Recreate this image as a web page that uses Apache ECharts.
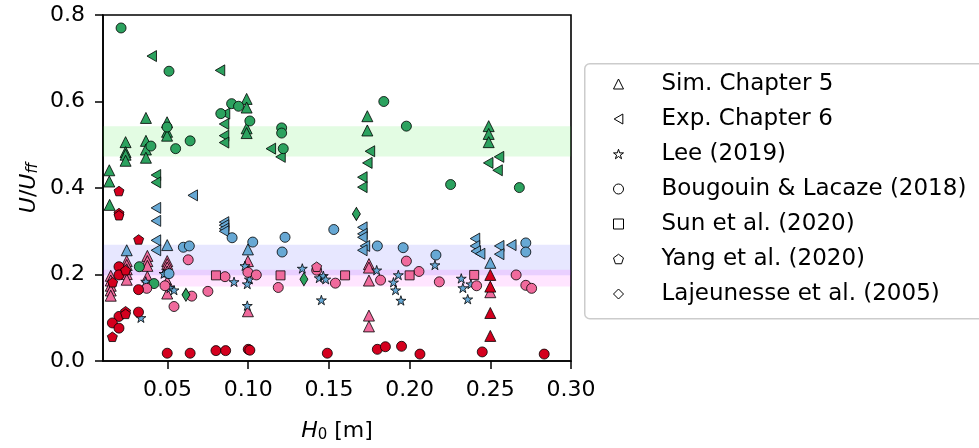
<!DOCTYPE html>
<html><head><meta charset="utf-8">
<script src="https://cdn.jsdelivr.net/npm/echarts@6/dist/echarts.min.js"></script>
<style>html,body{margin:0;padding:0;background:#fff}#c{width:979px;height:448px}</style>
</head><body><div id="c"></div>
<script>
// ---------- DATA (H0 [m], U/Uff, regime) ----------
const seriesNames = ['Sim. Chapter 5','Exp. Chapter 6','Lee (2019)','Bougouin & Lacaze (2018)','Sun et al. (2020)','Yang et al. (2020)','Lajeunesse et al. (2005)'];

const simData = [
  [0.0139,0.441,'g'],[0.0139,0.415,'g'],[0.0141,0.361,'g'],
  [0.024,0.506,'g'],[0.024,0.483,'g'],[0.024,0.477,'g'],[0.024,0.463,'g'],
  [0.0366,0.562,'g'],[0.0366,0.509,'g'],[0.0366,0.489,'g'],[0.0366,0.470,'g'],
  [0.0497,0.552,'g'],[0.0497,0.530,'g'],[0.0497,0.521,'g'],
  [0.099,0.606,'g'],[0.099,0.586,'g'],[0.099,0.538,'g'],[0.099,0.527,'g'],
  [0.1738,0.566,'g'],[0.1738,0.533,'g'],
  [0.249,0.543,'g'],[0.249,0.525,'g'],[0.249,0.506,'g'],
  [0.0247,0.256,'b'],[0.0498,0.268,'b'],[0.0998,0.258,'b'],[0.250,0.227,'b'],
  [0.0148,0.197,'p'],[0.0148,0.186,'p'],[0.0148,0.174,'p'],[0.0148,0.163,'p'],[0.0148,0.151,'p'],
  [0.0247,0.231,'p'],[0.0247,0.222,'p'],[0.0247,0.212,'p'],[0.0247,0.201,'p'],[0.0247,0.188,'p'],
  [0.0375,0.243,'p'],[0.0375,0.231,'p'],[0.0375,0.220,'p'],[0.0375,0.195,'p'],
  [0.0498,0.231,'p'],[0.0498,0.224,'p'],[0.0498,0.216,'p'],[0.0498,0.207,'p'],[0.0498,0.184,'p'],[0.0498,0.156,'p'],
  [0.0998,0.231,'p'],[0.0998,0.115,'p'],
  [0.1748,0.224,'p'],[0.1748,0.216,'p'],[0.1748,0.186,'p'],[0.1748,0.105,'p'],[0.1748,0.080,'p'],
  [0.250,0.159,'p'],
  [0.250,0.199,'r'],[0.250,0.172,'r'],[0.250,0.111,'r'],[0.250,0.058,'r']
];

const expData = [
  [0.0402,0.705,'g'],[0.0825,0.672,'g'],[0.0856,0.572,'g'],[0.085,0.548,'g'],[0.085,0.521,'g'],[0.085,0.505,'g'],
  [0.0428,0.430,'g'],[0.0428,0.413,'g'],[0.114,0.491,'g'],[0.120,0.472,'g'],[0.1754,0.485,'g'],[0.1738,0.458,'g'],
  [0.1707,0.425,'g'],[0.1707,0.402,'g'],[0.2554,0.472,'g'],[0.2487,0.458,'g'],[0.2545,0.441,'g'],
  [0.0656,0.383,'b'],[0.0428,0.354,'b'],[0.0428,0.324,'b'],[0.085,0.321,'b'],[0.085,0.314,'b'],[0.085,0.306,'b'],[0.085,0.300,'b'],
  [0.0428,0.279,'b'],[0.0428,0.256,'b'],[0.1707,0.309,'b'],[0.1707,0.294,'b'],[0.1707,0.286,'b'],[0.1723,0.266,'b'],[0.1707,0.256,'b'],
  [0.2405,0.283,'b'],[0.2405,0.266,'b'],[0.241,0.254,'b'],[0.2437,0.248,'b'],[0.2555,0.266,'b'],[0.2555,0.247,'b'],[0.263,0.268,'b'],
  [0.1713,-0.012,'b']
];

const leeData = [
  [0.0365,0.184,'b'],[0.0478,0.202,'b'],[0.0515,0.169,'b'],[0.054,0.164,'b'],[0.0912,0.183,'b'],[0.098,0.220,'b'],
  [0.1007,0.189,'b'],[0.0994,0.178,'b'],[0.0994,0.128,'b'],[0.0335,0.100,'b'],[0.1335,0.214,'b'],[0.144,0.192,'b'],
  [0.1465,0.197,'b'],[0.148,0.189,'b'],[0.1453,0.141,'b'],[0.1796,0.210,'b'],[0.190,0.182,'b'],[0.1913,0.164,'b'],
  [0.193,0.199,'b'],[0.1946,0.140,'b'],[0.2157,0.222,'b'],[0.232,0.191,'b'],[0.233,0.169,'b'],[0.238,0.178,'b'],[0.236,0.143,'b']
];

const bougouinData = [
  [0.0212,0.770,'g'],[0.0509,0.670,'g'],[0.0897,0.595,'g'],[0.094,0.589,'g'],[0.083,0.572,'g'],[0.101,0.555,'g'],
  [0.0497,0.541,'g'],[0.0397,0.497,'g'],[0.055,0.491,'g'],[0.064,0.509,'g'],[0.1207,0.539,'g'],[0.1207,0.527,'g'],
  [0.1217,0.491,'g'],[0.184,0.600,'g'],[0.198,0.543,'g'],[0.2254,0.408,'g'],[0.268,0.401,'g'],[0.0325,0.218,'g'],[0.0416,0.179,'g'],
  [0.090,0.285,'b'],[0.1028,0.275,'b'],[0.0598,0.263,'b'],[0.0635,0.266,'b'],[0.0509,0.202,'b'],[0.1228,0.286,'b'],
  [0.153,0.304,'b'],[0.121,0.252,'b'],[0.180,0.266,'b'],[0.196,0.262,'b'],[0.2163,0.245,'b'],[0.272,0.273,'b'],[0.272,0.252,'b'],
  [0.0628,0.234,'p'],[0.0371,0.168,'p'],[0.0484,0.174,'p'],[0.065,0.150,'p'],[0.054,0.126,'p'],[0.075,0.161,'p'],
  [0.0856,0.195,'p'],[0.0998,0.205,'p'],[0.105,0.199,'p'],[0.1186,0.170,'p'],[0.1424,0.210,'p'],[0.154,0.180,'p'],
  [0.182,0.187,'p'],[0.198,0.231,'p'],[0.2058,0.207,'p'],[0.2184,0.183,'p'],[0.2415,0.174,'p'],[0.266,0.199,'p'],
  [0.272,0.175,'p'],[0.2756,0.168,'p'],
  [0.0199,0.218,'r'],[0.0199,0.199,'r'],[0.032,0.165,'r'],[0.0199,0.103,'r'],[0.032,0.113,'r'],[0.0158,0.088,'r'],
  [0.0199,0.076,'r'],[0.0498,0.018,'r'],[0.064,0.018,'r'],[0.080,0.024,'r'],[0.086,0.024,'r'],[0.100,0.027,'r'],
  [0.101,0.025,'r'],[0.149,0.018,'r'],[0.180,0.027,'r'],[0.185,0.033,'r'],[0.195,0.034,'r'],[0.2064,0.016,'r'],
  [0.245,0.021,'r'],[0.2834,0.016,'r']
];

const sunData = [[0.080,0.198,'p'],[0.120,0.198,'p'],[0.160,0.198,'p'],[0.200,0.198,'p'],[0.240,0.199,'p']];

const yangData = [
  [0.0199,0.393,'r'],[0.0199,0.342,'r'],[0.0199,0.337,'r'],[0.0321,0.281,'r'],[0.016,0.182,'r'],[0.024,0.210,'r'],
  [0.024,0.115,'r'],[0.024,0.109,'r'],[0.0158,0.056,'r'],[0.1424,0.218,'p']
];

const lajeunesseData = [[0.0614,0.153,'g'],[0.1345,0.189,'g'],[0.167,0.340,'g']];

const bands = [[0.473,0.543,'g'],[0.198,0.269,'b'],[0.172,0.211,'p']];

const xTicks = [0.05,0.10,0.15,0.20,0.25,0.30];
const yTicks = [0.0,0.2,0.4,0.6,0.8];

// ---------- STYLE ----------
const regimeColor = {g:'#2ca25f', b:'#67a8d4', p:'#f06a9c', r:'#d4001e'};
const bandColor = {g:'rgba(60,235,60,0.14)', b:'rgba(40,40,255,0.11)', p:'rgba(255,0,255,0.10)'};
const leftTri = 'path://M0,50L86.6,0L86.6,100Z';
const star = 'path://M0,-100L22.5,-30.9L95.1,-30.9L36.3,11.8L58.8,80.9L0,38.2L-58.8,80.9L-36.3,11.8L-95.1,-30.9L-22.5,-30.9Z';
const pent = 'path://M0,-100L95.1,-30.9L58.8,80.9L-58.8,80.9L-95.1,-30.9Z';
const FONT = 'DejaVu Sans';

const allData = [simData, expData, leeData, bougouinData, sunData, yangData, lajeunesseData];
const symbols = ['triangle', leftTri, star, 'circle', 'rect', pent, 'diamond'];
const sizes = [11, 11, 10, 10, 9, 10, [8,13]];

function pts(arr){
  return arr.map(d => ({value:[d[0], d[1]], itemStyle:{color: regimeColor[d[2]]}}));
}

const series = [{
  type:'scatter', name:'bands', data:[], silent:true,
  markArea:{silent:true, data: bands.map(b => [{yAxis:b[0], itemStyle:{color:bandColor[b[2]]}}, {yAxis:b[1]}])}
}];
seriesNames.forEach((n,i) => {
  series.push({
    type:'scatter', name:n, symbol:symbols[i], symbolSize:sizes[i], symbolKeepAspect:true, clip:true,
    itemStyle:{borderColor:'#000', borderWidth:0.8, opacity:1},
    data: pts(allData[i]), z: 3
  });
});

const chart = echarts.init(document.getElementById('c'), null, {renderer:'canvas'});
chart.setOption({
  animation:false,
  backgroundColor:'#fff',
  textStyle:{fontFamily:FONT},
  grid:{left:103, right:408, top:15, bottom:84, show:true, borderColor:'#000', borderWidth:1.6, backgroundColor:'transparent'},
  xAxis:{
    type:'value', min:0.01, max:0.30,
    axisLine:{show:true, onZero:false, lineStyle:{color:'#000', width:1.6}},
    axisTick:{show:true, length:8, lineStyle:{color:'#000', width:1.5}, customValues:xTicks},
    axisLabel:{fontSize:22, color:'#000', fontFamily:FONT, margin:18, customValues:xTicks, formatter:v=>v.toFixed(2)},
    splitLine:{show:false},
    name:'{it|H}{sub|0} [m]', nameLocation:'middle', nameGap:58,
    nameTextStyle:{fontSize:22, color:'#000', fontFamily:FONT,
      rich:{it:{fontStyle:'italic', fontSize:22, fontFamily:FONT}, sub:{fontSize:15, fontFamily:FONT, padding:[9,0,0,0]}}}
  },
  yAxis:{
    type:'value', min:0, max:0.8, interval:0.2,
    axisLine:{show:true, onZero:false, lineStyle:{color:'#000', width:1.6}},
    axisTick:{show:true, length:8, lineStyle:{color:'#000', width:1.5}},
    axisLabel:{fontSize:22, color:'#000', fontFamily:FONT, margin:18, formatter:v=>v.toFixed(1)},
    splitLine:{show:false},
    name:'{it|U}/{it|U}{sub|ff}', nameLocation:'middle', nameGap:62, nameRotate:90,
    nameTextStyle:{fontSize:22, color:'#000', fontFamily:FONT,
      rich:{it:{fontStyle:'italic', fontSize:22, fontFamily:FONT}, sub:{fontStyle:'italic', fontSize:15, fontFamily:FONT, padding:[9,0,0,0]}}}
  },
  graphic:[{type:'rect', left:584, top:63, shape:{x:0, y:0, width:420, height:255, r:5},
    style:{fill:'#fff', stroke:'#cccccc', lineWidth:1.5}, z:0, silent:true}],
  legend:{
    data:seriesNames, orient:'vertical', left:613, top:72, padding:0,
    itemWidth:10, itemHeight:10, itemGap:11, selectedMode:false,
    itemStyle:{color:'#fff', borderColor:'#000', borderWidth:1},
    textStyle:{fontSize:23, color:'#000', fontFamily:FONT, lineHeight:24, padding:[0,0,0,33]},
    z:5
  },
  series:series
});
</script></body></html>
